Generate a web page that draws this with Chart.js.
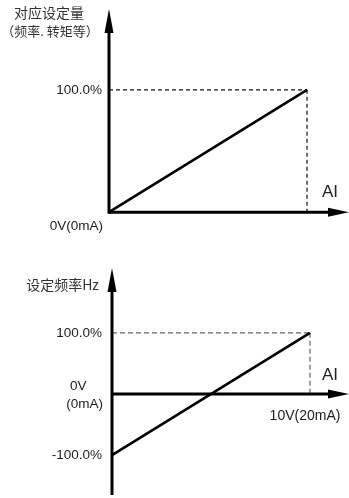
<!DOCTYPE html>
<html><head><meta charset="utf-8">
<script src="https://cdn.jsdelivr.net/npm/chart.js@4.4.1/dist/chart.umd.min.js"></script>
<style>
html,body{margin:0;padding:0;background:#fff;width:349px;height:498px;overflow:hidden}
.c{position:absolute;left:0;width:349px}
</style></head><body>
<div class="c" style="top:0;height:240px"><canvas id="top" width="349" height="240"></canvas></div>
<div class="c" style="top:250px;height:248px"><canvas id="bot" width="349" height="248"></canvas></div>
<script>
// ---- data ----
const aiInput = [0, 100];            // AI input, % of full scale
const topSetting = [0, 100];         // corresponding setting, %
const bottomFreq = [-100, 100];      // set frequency, %
const topTickValues = [100];
const bottomTickValues = [-100, 100];
const topTitleLines = ['对应设定量', '（频率. 转矩等）'];
const bottomTitle = '设定频率Hz';
const topOriginLabel = '0V(0mA)';
const bottomOriginLines = ['0V', '(0mA)'];
const bottomEndLabel = '10V(20mA)';
const axisName = 'AI';

const LATIN = '"Liberation Sans", Arial, sans-serif';
const CJK = '"Noto Sans CJK SC", "Liberation Sans", sans-serif';

function pts(xs, ys) { return xs.map((x, i) => ({x: x, y: ys[i]})); }

const axesPlugin = {
  id: 'axesArrows',
  afterDatasetsDraw(chart, args, o) {
    const ctx = chart.ctx, a = chart.chartArea, xs = chart.scales.x, ys = chart.scales.y;
    const x0 = xs.getPixelForValue(0), y0 = ys.getPixelForValue(0);
    ctx.save();
    ctx.strokeStyle = '#000'; ctx.fillStyle = '#000'; ctx.lineWidth = 3;
    // y axis
    const yStart = o.yFromZero ? y0 + 1.5 : a.bottom;
    ctx.beginPath(); ctx.moveTo(x0, yStart); ctx.lineTo(x0, a.top + 20); ctx.stroke();
    ctx.beginPath(); ctx.moveTo(x0, a.top); ctx.lineTo(x0 - 4.5, a.top + 24); ctx.lineTo(x0 + 4.5, a.top + 24); ctx.closePath(); ctx.fill();
    // x axis
    ctx.beginPath(); ctx.moveTo(x0, y0); ctx.lineTo(a.right - 16, y0); ctx.stroke();
    ctx.beginPath(); ctx.moveTo(a.right, y0); ctx.lineTo(a.right - 21, y0 - 4.5); ctx.lineTo(a.right - 21, y0 + 4.5); ctx.closePath(); ctx.fill();
    // texts
    ctx.textBaseline = 'middle';
    (o.texts || []).forEach(t => {
      ctx.font = t.font; ctx.fillStyle = t.color || '#222'; ctx.textAlign = t.align || 'left';
      ctx.fillText(t.text, t.ax === 'x0' ? x0 + t.dx : (t.ax === 'right' ? a.right + t.dx : (t.ax === 'x100' ? xs.getPixelForValue(100) + t.dx : t.dx)),
        t.ay === 'y0' ? y0 + t.dy : (t.ay === 'top' ? a.top + t.dy : t.dy));
    });
    ctx.restore();
  }
};

function makeChart(id, cfg) {
  const yAxisWidth = cfg.axisX;
  return new Chart(document.getElementById(id), {
    type: 'scatter',
    data: {
      datasets: [
        { data: pts(aiInput, cfg.values), showLine: true, borderColor: '#000', borderWidth: 2.6, pointRadius: 0, clip: false },
        { data: pts([aiInput[0], aiInput[1]], [cfg.values[1], cfg.values[1]]), showLine: true, borderColor: cfg.dashColor, borderWidth: 1.2, borderDash: cfg.dash, pointRadius: 0, clip: false },
        { data: pts([aiInput[1], aiInput[1]], [cfg.values[1], 0]), showLine: true, borderColor: cfg.dashColor, borderWidth: 1.2, borderDash: cfg.dash, pointRadius: 0, clip: false }
      ]
    },
    options: {
      responsive: false, animation: false, devicePixelRatio: 1,
      layout: { padding: cfg.padding },
      plugins: { legend: { display: false }, tooltip: { enabled: false }, axesArrows: { yFromZero: cfg.yFromZero, texts: cfg.texts } },
      scales: {
        x: { type: 'linear', display: false, min: cfg.xMin, max: cfg.xMax },
        y: {
          type: 'linear', min: cfg.yMin, max: cfg.yMax,
          grid: { display: false, drawTicks: false },
          border: { display: false },
          ticks: { padding: cfg.tickPad, color: '#222', font: { family: LATIN, size: 13.5 }, callback: v => v.toFixed(1) + '%' },
          afterBuildTicks: s => { s.ticks = cfg.ticks.map(v => ({ value: v })); },
          afterFit: s => { s.width = yAxisWidth; s.paddingTop = 0; s.paddingBottom = 0; }
        }
      }
    },
    plugins: [axesPlugin]
  });
}

makeChart('top', {
  values: topSetting, ticks: topTickValues, axisX: 109, tickPad: 7,
  padding: { top: 9, bottom: 18, left: 0, right: 0 },
  xMin: 0, xMax: 121.2, yMin: -8, yMax: 166,
  dash: [4, 3], dashColor: '#111', yFromZero: true,
  texts: [
    { text: topTitleLines[0], font: '14px ' + CJK, color: '#333', align: 'center', ax: 'abs', dx: 49, ay: 'abs', dy: 13 },
    { text: topTitleLines[1], font: '13px ' + CJK, color: '#333', align: 'center', ax: 'abs', dx: 50, ay: 'abs', dy: 31 },
    { text: topOriginLabel, font: '13.5px ' + LATIN, align: 'right', ax: 'x0', dx: -6, ay: 'y0', dy: 14 },
    { text: axisName, font: '17px ' + LATIN, align: 'left', ax: 'right', dx: -27, ay: 'y0', dy: -20 }
  ]
});

makeChart('bot', {
  values: bottomFreq, ticks: bottomTickValues, axisX: 112, tickPad: 10,
  padding: { top: 18, bottom: 3, left: 0, right: 0 },
  xMin: 0, xMax: 119.7, yMin: -165, yMax: 206,
  dash: [5, 3], dashColor: '#666', yFromZero: false,
  texts: [
    { text: bottomTitle, font: '14px ' + CJK, color: '#333', align: 'right', ax: 'x0', dx: -13, ay: 'top', dy: 17 },
    { text: bottomOriginLines[0], font: '13.5px ' + LATIN, align: 'left', ax: 'abs', dx: 70, ay: 'y0', dy: -8 },
    { text: bottomOriginLines[1], font: '13.5px ' + LATIN, align: 'right', ax: 'x0', dx: -9, ay: 'y0', dy: 10 },
    { text: axisName, font: '17px ' + LATIN, align: 'left', ax: 'right', dx: -27, ay: 'y0', dy: -19 },
    { text: bottomEndLabel, font: '14px ' + LATIN, align: 'center', ax: 'x100', dx: -5, ay: 'y0', dy: 22 }
  ]
});
</script>
</body></html>
